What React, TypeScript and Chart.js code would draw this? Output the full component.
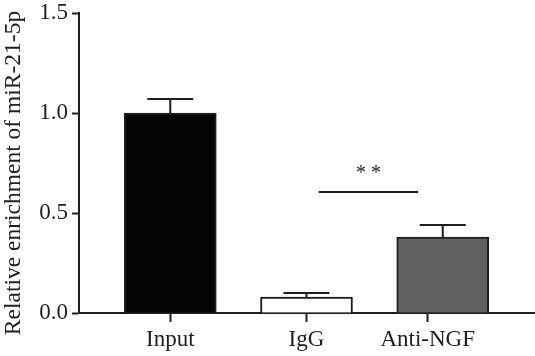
import React, { useEffect, useRef } from 'react';
import { Chart, registerables } from 'chart.js';

Chart.register(...registerables);

const categories = ['Input', 'IgG', 'Anti-NGF'];
const categoryPositions = [0, 1, 2];
const tickPositions = [0, 1, 1.89];
const means = [1.0, 0.08, 0.38];
const errors = [0.07, 0.02, 0.06];
const barColors = ['#050505', '#ffffff', '#626262'];
const yTicks = [0, 0.5, 1.0, 1.5];
const sigRange = [1.09, 1.82];
const sigLevel = 0.605;
const sigText = '**';
const sigTextLevel = 0.715;
const yTitle = 'Relative enrichment of miR-21-5p';

const FONT = '"Liberation Serif", "DejaVu Serif", serif';
const INK = '#1e1e1e';

export default function App() {
  const ref = useRef<HTMLCanvasElement | null>(null);

  useEffect(() => {
    document.body.style.margin = '0';
    const canvas = ref.current;
    if (!canvas) return;

    const overlay = {
      id: 'overlay',
      afterDatasetsDraw(chart: any) {
        const ctx = chart.ctx;
        const xs = chart.scales.x;
        const ys = chart.scales.y;
        const meta = chart.getDatasetMeta(0);
        ctx.save();
        ctx.strokeStyle = INK;
        ctx.lineWidth = 2;
        meta.data.forEach((bar: any, i: number) => {
          const x = bar.x;
          const yTop = ys.getPixelForValue(means[i] + errors[i]);
          const yBar = ys.getPixelForValue(means[i]);
          ctx.beginPath();
          ctx.moveTo(x, yBar);
          ctx.lineTo(x, yTop);
          ctx.moveTo(x - 23, yTop);
          ctx.lineTo(x + 23, yTop);
          ctx.stroke();
        });
        // significance line
        const sy = ys.getPixelForValue(sigLevel);
        const sx0 = xs.getPixelForValue(sigRange[0]);
        const sx1 = xs.getPixelForValue(sigRange[1]);
        ctx.beginPath();
        ctx.moveTo(sx0, sy);
        ctx.lineTo(sx1, sy);
        ctx.stroke();
        ctx.fillStyle = INK;
        ctx.font = '20px ' + FONT;
        ctx.textAlign = 'center';
        ctx.textBaseline = 'middle';
        ctx.fillText(sigText.split('').join(' '), (sx0 + sx1) / 2, ys.getPixelForValue(sigTextLevel) + 4);
        // y-axis title
        ctx.font = '23.5px ' + FONT;
        ctx.textBaseline = 'alphabetic';
        ctx.translate(20, 173);
        ctx.rotate(-Math.PI / 2);
        ctx.fillText(yTitle, 0, 0);
        ctx.restore();
      },
    };

    const chart = new Chart(canvas, {
      type: 'bar',
      data: {
        datasets: [
          {
            data: categoryPositions.map((x, i) => ({ x, y: means[i] })),
            backgroundColor: barColors,
            borderColor: INK,
            borderWidth: 2,
            barThickness: 92,
          },
        ],
      },
      options: {
        animation: false,
        responsive: false,
        layout: { padding: { top: 13, right: 1, left: 0, bottom: 0 } },
        plugins: {
          legend: { display: false },
          tooltip: { enabled: false },
        },
        scales: {
          x: {
            type: 'linear',
            offset: false,
            min: -0.67,
            max: 2.67,
            afterBuildTicks: (scale: any) => {
              scale.ticks = tickPositions.map((v) => ({ value: v }));
            },
            afterFit: (scale: any) => {
              scale.height = 43;
              scale.paddingLeft = 0;
              scale.paddingRight = 0;
            },
            ticks: {
              callback: (_v: any, i: number) => categories[i],
              font: { family: FONT, size: 23 },
              color: INK,
              padding: 4,
              maxRotation: 0,
              autoSkip: false,
            },
            grid: {
              offset: false,
              drawOnChartArea: false,
              drawTicks: true,
              tickLength: 9,
              tickWidth: 2,
              tickColor: INK,
            },
            border: { display: true, color: INK, width: 2 },
          },
          y: {
            min: 0,
            max: 1.5,
            afterBuildTicks: (scale: any) => {
              scale.ticks = yTicks.map((v) => ({ value: v }));
            },
            afterFit: (scale: any) => {
              scale.width = 79;
              scale.paddingTop = 0;
              scale.paddingBottom = 0;
            },
            ticks: {
              callback: (v: any) => Number(v).toFixed(1),
              font: { family: FONT, size: 23, lineHeight: 1 },
              color: INK,
              padding: 4,
            },
            grid: {
              drawOnChartArea: false,
              drawTicks: true,
              tickLength: 7,
              tickWidth: 2,
              tickColor: INK,
            },
            border: { display: true, color: INK, width: 2 },
          },
        },
      },
      plugins: [overlay],
    } as any);

    return () => chart.destroy();
  }, []);

  return <canvas ref={ref} width={535} height={356} style={{ display: 'block' }} />;
}
